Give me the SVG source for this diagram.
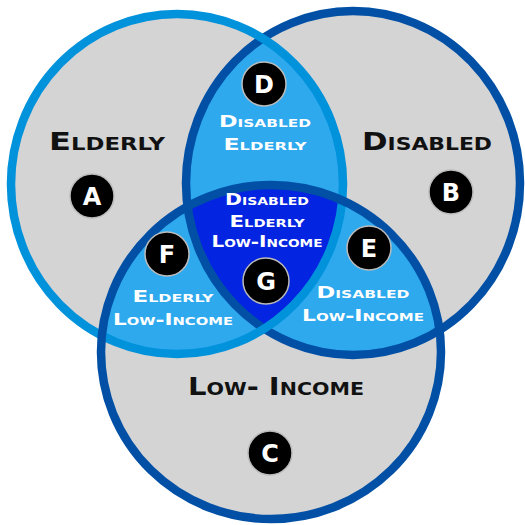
<svg xmlns="http://www.w3.org/2000/svg" width="525" height="525" viewBox="0 0 525 525">
<style>
.lbl{font-family:"DejaVu Sans","Liberation Sans",sans-serif;font-weight:bold;font-variant:small-caps;text-anchor:middle}
.big{font-size:24px;fill:#111}
.sm{font-size:16px;fill:#fff}
.badge circle{fill:#000;stroke:#bbb;stroke-width:1.5}
.badge text{font-family:"DejaVu Sans","Liberation Sans",sans-serif;font-weight:bold;font-size:24px;fill:#fff;text-anchor:middle}
</style>
<defs>
<ellipse id="cE" cx="177" cy="184" rx="166" ry="170"/>
<ellipse id="cD" cx="353" cy="183" rx="167" ry="172"/>
<ellipse id="cL" cx="271" cy="352" rx="170" ry="167"/>
<clipPath id="clipE"><use href="#cE"/></clipPath>
<clipPath id="clipD"><use href="#cD"/></clipPath>
<clipPath id="clipL"><use href="#cL"/></clipPath>
</defs>
<g id="fills">
<use href="#cE" fill="#d4d4d4"/>
<use href="#cD" fill="#d4d4d4"/>
<use href="#cL" fill="#d4d4d4"/>
<g clip-path="url(#clipE)"><use href="#cD" fill="#2ea9ee"/><use href="#cL" fill="#2ea9ee"/></g>
<g clip-path="url(#clipD)"><use href="#cL" fill="#2ea9ee"/></g>
<g clip-path="url(#clipE)"><g clip-path="url(#clipD)"><use href="#cL" fill="#0324e0"/></g></g>
</g>
<g id="outlines" fill="none" stroke-width="8.5">
<use href="#cD" stroke="#0150a6"/>
<use href="#cE" stroke="#0192dc"/>
<use href="#cL" stroke="#0150a6"/>
</g>
<g id="elderly"><text class="lbl big" x="107" y="150" textLength="116" lengthAdjust="spacingAndGlyphs">Elderly</text></g>
<g id="disabled"><text class="lbl big" x="427" y="150" textLength="130" lengthAdjust="spacingAndGlyphs">Disabled</text></g>
<g id="lowincome"><text class="lbl big" x="276" y="395" textLength="176" lengthAdjust="spacingAndGlyphs">Low- Income</text></g>
<g id="region-d"><text class="lbl sm" x="265" y="127" textLength="92" lengthAdjust="spacingAndGlyphs">Disabled</text><text class="lbl sm" x="265" y="150" textLength="83" lengthAdjust="spacingAndGlyphs">Elderly</text></g>
<g id="region-g"><text class="lbl sm" x="267" y="205" textLength="84" lengthAdjust="spacingAndGlyphs">Disabled</text><text class="lbl sm" x="267" y="227" textLength="75" lengthAdjust="spacingAndGlyphs">Elderly</text><text class="lbl sm" x="267" y="247" textLength="111" lengthAdjust="spacingAndGlyphs">Low-Income</text></g>
<g id="region-f"><text class="lbl sm" x="173" y="302" textLength="81" lengthAdjust="spacingAndGlyphs">Elderly</text><text class="lbl sm" x="173" y="325" textLength="120" lengthAdjust="spacingAndGlyphs">Low-Income</text></g>
<g id="region-e"><text class="lbl sm" x="363" y="298" textLength="93" lengthAdjust="spacingAndGlyphs">Disabled</text><text class="lbl sm" x="363" y="321" textLength="122" lengthAdjust="spacingAndGlyphs">Low-Income</text></g>
<g id="badge-a" class="badge"><circle cx="92" cy="196" r="22"/><text x="92" y="205">A</text></g>
<g id="badge-b" class="badge"><circle cx="451" cy="192" r="22"/><text x="451" y="201">B</text></g>
<g id="badge-c" class="badge"><circle cx="270" cy="453" r="22"/><text x="270" y="462">C</text></g>
<g id="badge-d" class="badge"><circle cx="264" cy="84" r="22"/><text x="264" y="93">D</text></g>
<g id="badge-e" class="badge"><circle cx="369" cy="248" r="22"/><text x="369" y="257">E</text></g>
<g id="badge-f" class="badge"><circle cx="167" cy="254" r="22"/><text x="167" y="263">F</text></g>
<g id="badge-g" class="badge"><circle cx="266" cy="281" r="23"/><text x="266" y="290">G</text></g>
</svg>
